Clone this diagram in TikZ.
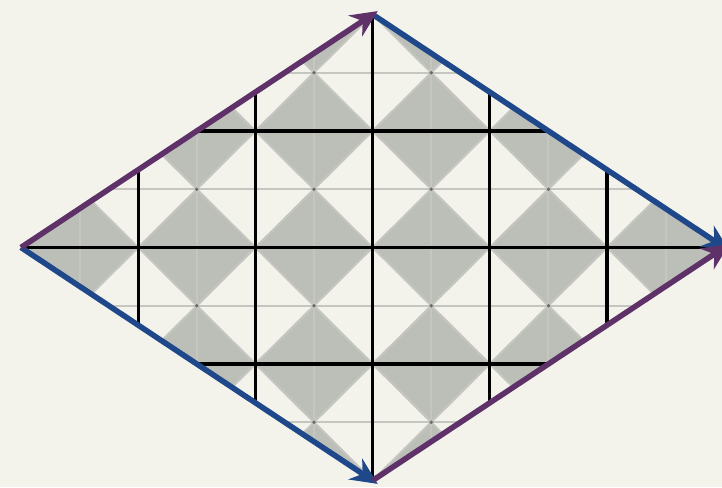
\documentclass[tikz,border=0pt]{standalone}
\usetikzlibrary{arrows.meta}
\definecolor{bgcream}{RGB}{243,243,236}
\definecolor{tilegray}{RGB}{188,190,184}
\definecolor{linegray}{RGB}{198,198,193}
\definecolor{dotgray}{RGB}{105,108,105}
\definecolor{edgepurple}{RGB}{94,50,104}
\definecolor{edgeblue}{RGB}{30,72,138}
\tikzset{
  tile/.style={fill=tilegray},
  thinline/.style={draw=linegray,line width=0.5pt},
  gridline/.style={draw=black,line width=0.75pt},
  crossdot/.style={fill=dotgray},
  purpleedge/.style={-{Stealth[length=6.5pt,width=6pt]},shorten >=-1.5pt,draw=edgepurple,line width=1.35pt},
  blueedge/.style={-{Stealth[length=6.5pt,width=6pt]},shorten >=-1.5pt,draw=edgeblue,line width=1.35pt}
}
\begin{document}
\begin{tikzpicture}[x=1cm,y=0.994cm]
  \fill[bgcream] (-0.179,-2.056) rectangle (5.981,2.124);
  \useasboundingbox (-0.179,-2.056) rectangle (5.981,2.124);

  \coordinate (L) at (0,0);
  \coordinate (T) at (3,2);
  \coordinate (R) at (6,0);
  \coordinate (B) at (3,-2);

  \begin{scope}
    \clip (L) -- (T) -- (R) -- (B) -- cycle;
    %% shaded diamonds
    \foreach \i in {0,...,5}
      \foreach \j in {-2,...,2}
        \fill[tile] (\i,\j) -- ++(0.5,0.5) -- ++(0.5,-0.5) -- ++(-0.5,-0.5) -- cycle;
    %% half-step lines and diagonals
    \foreach \k in {0.5,1.5,...,5.5}
      \draw[thinline] (\k,-2) -- (\k,2);
    \foreach \k in {-1.5,-0.5,0.5,1.5}
      \draw[thinline] (0,\k) -- (6,\k);
    \foreach \k in {-2,...,8} {
      \draw[thinline] (\k-2,-2) -- (\k+2,2);
      \draw[thinline] (\k-2,2) -- (\k+2,-2);
    }
    \foreach \i in {0,...,5}
      \foreach \j in {-2,...,1}
        \fill[crossdot] (\i+0.5,\j+0.5) circle (0.45pt);
    %% unit grid
    \foreach \k in {1,...,5}
      \draw[gridline] (\k,-2) -- (\k,2);
    \foreach \k in {-1,0,1}
      \draw[gridline] (0,\k) -- (6,\k);
  \end{scope}

  %% boundary
  \draw[blueedge] (T) -- (R);
  \draw[blueedge] (L) -- (B);
  \draw[purpleedge] (L) -- (T);
  \draw[purpleedge] (B) -- (R);
\end{tikzpicture}
\end{document}
